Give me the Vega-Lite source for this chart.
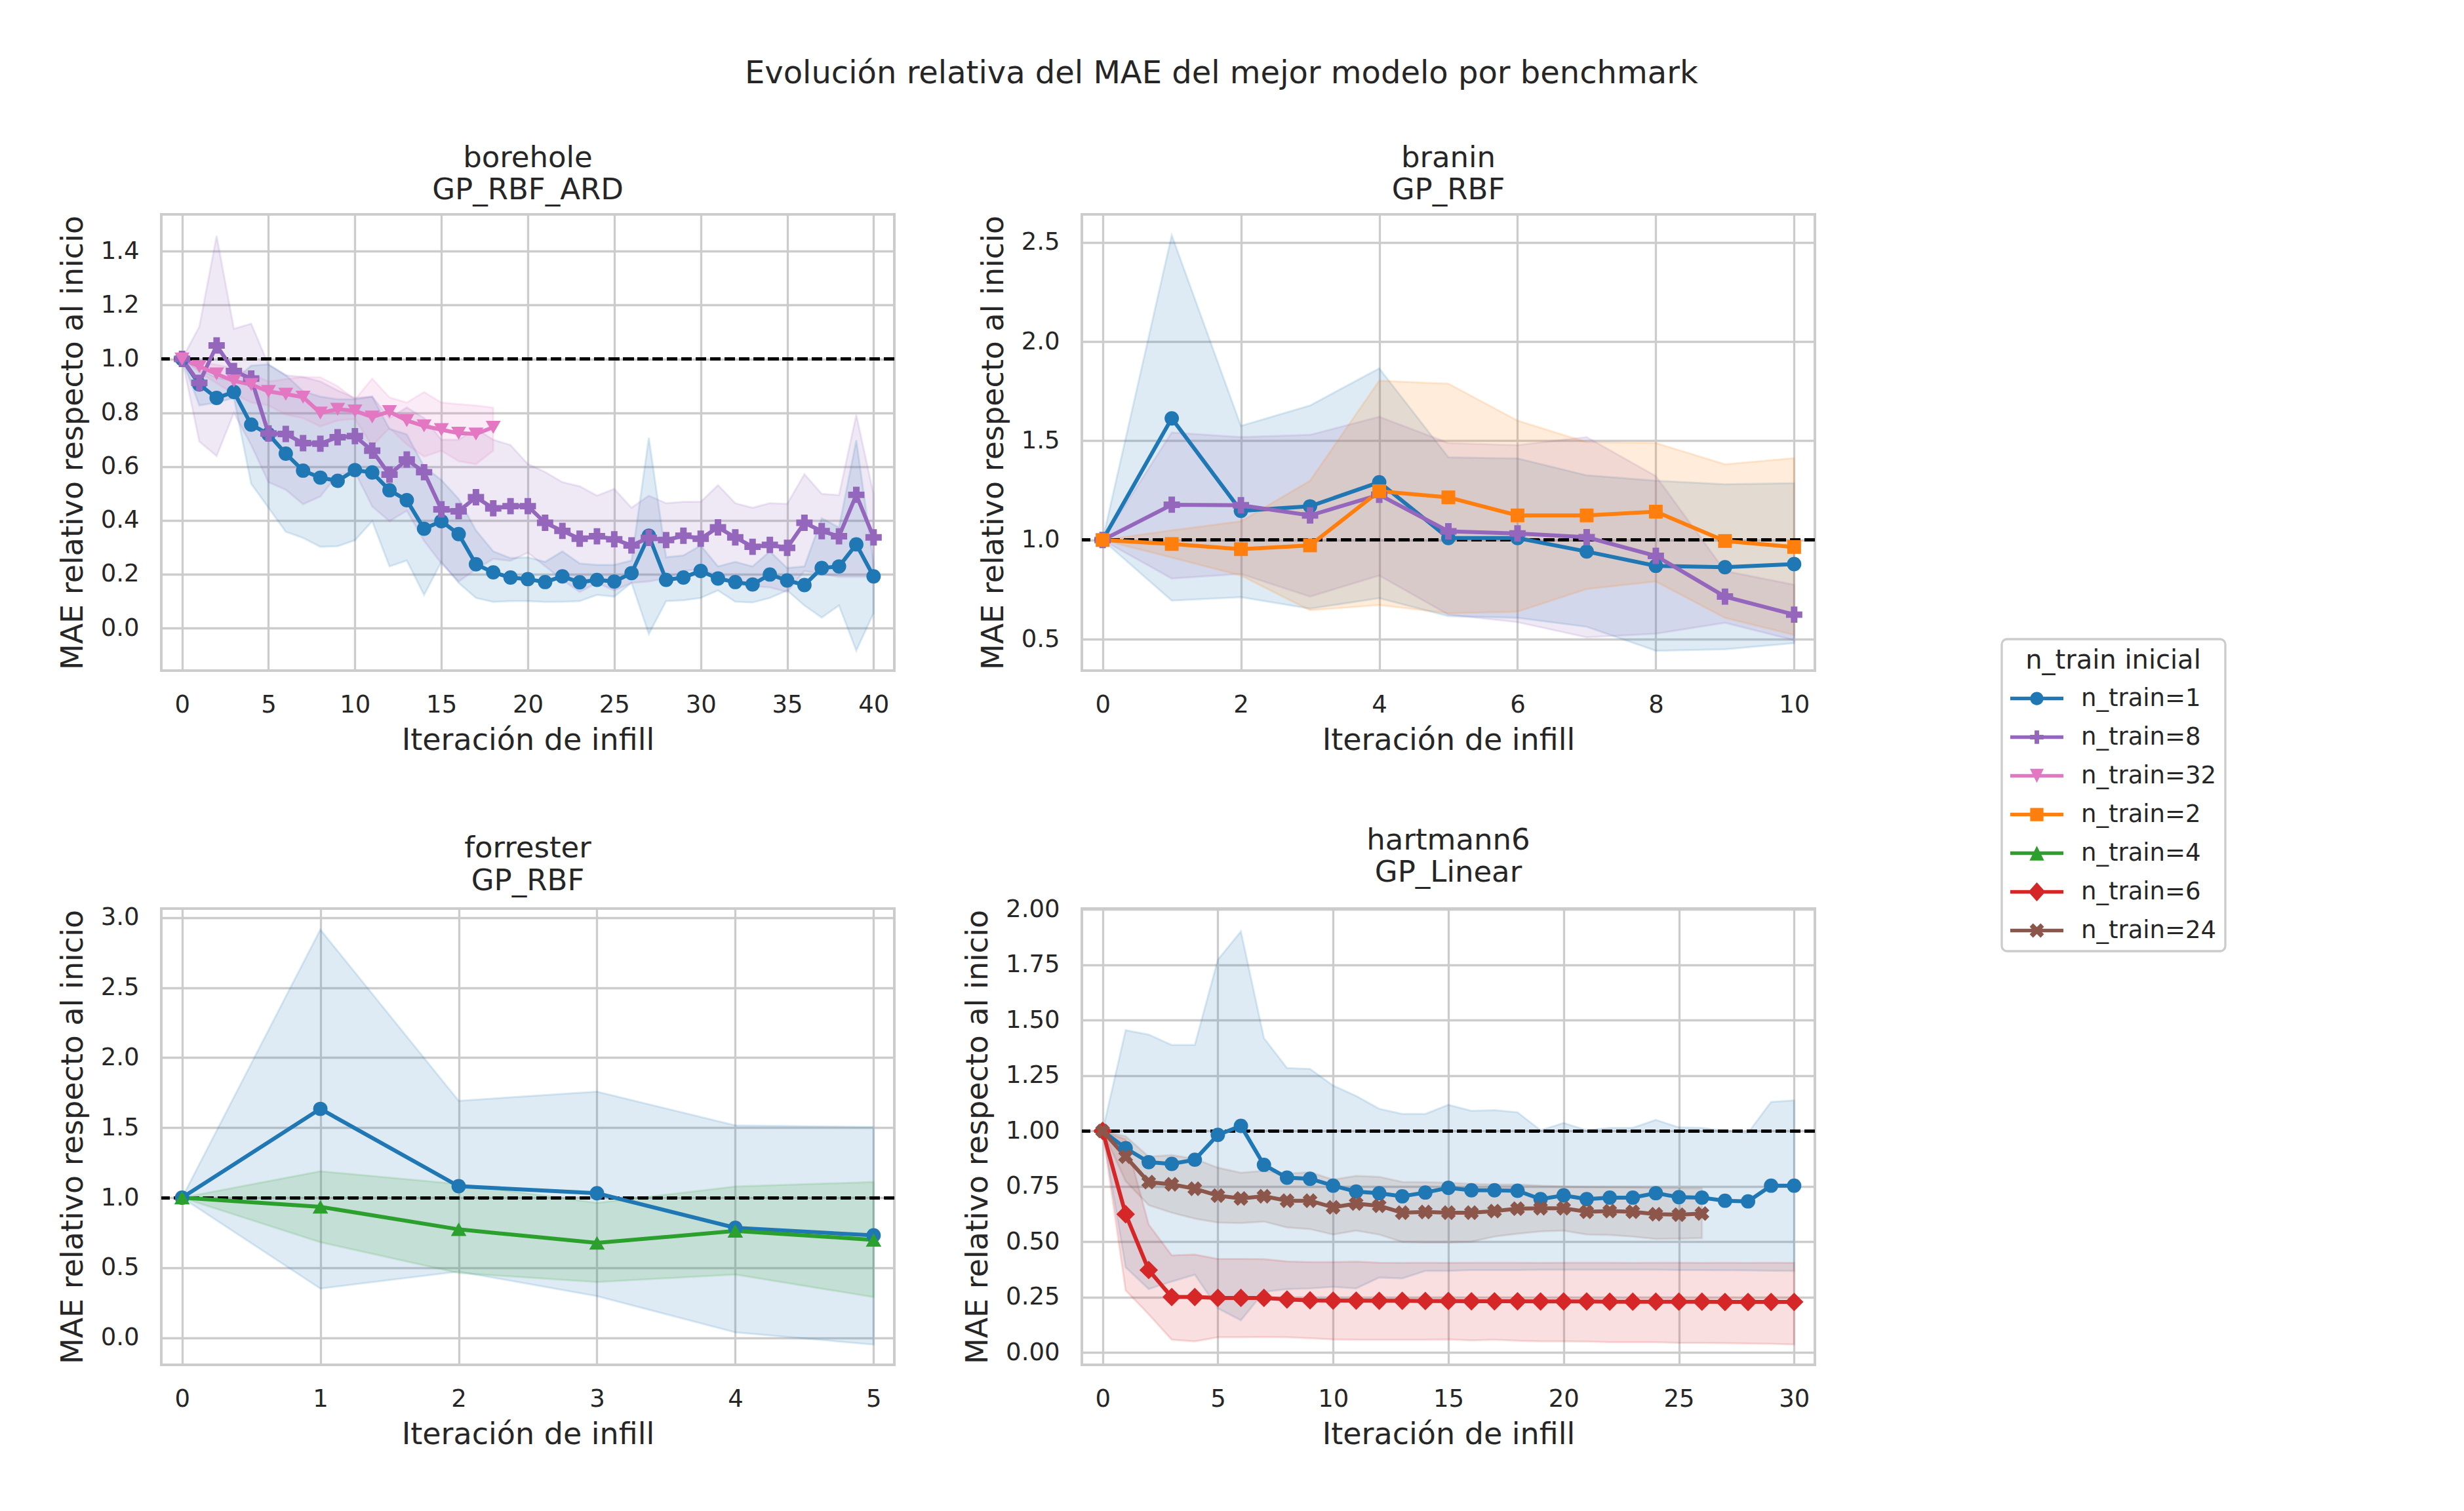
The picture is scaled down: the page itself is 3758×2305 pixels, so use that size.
{
  "$schema": "https://vega.github.io/schema/vega-lite/v6.json",
  "autosize": {"type": "none"},
  "padding": {"left": 246, "top": 327, "right": 3512, "bottom": 1978},
  "background": "#ffffff",
  "bounds": "flush",
  "columns": 2,
  "spacing": {"row": 363, "column": 286},
  "title": {"text": "Evolución relativa del MAE del mejor modelo por benchmark", "fontSize": 48, "anchor": "start", "frame": "group", "dx": 890, "offset": 80},
  "datasets": {
    "mae": [
      {"b":"borehole","s":"n_train=1","i":0,"m":1,"lo":1,"hi":1},
      {"b":"borehole","s":"n_train=1","i":1,"m":0.905,"lo":0.827,"hi":0.96},
      {"b":"borehole","s":"n_train=1","i":2,"m":0.855,"lo":0.838,"hi":0.93},
      {"b":"borehole","s":"n_train=1","i":3,"m":0.877,"lo":0.855,"hi":0.92},
      {"b":"borehole","s":"n_train=1","i":4,"m":0.756,"lo":0.536,"hi":0.975},
      {"b":"borehole","s":"n_train=1","i":5,"m":0.72,"lo":0.447,"hi":0.98},
      {"b":"borehole","s":"n_train=1","i":6,"m":0.648,"lo":0.358,"hi":0.94},
      {"b":"borehole","s":"n_train=1","i":7,"m":0.585,"lo":0.335,"hi":0.88},
      {"b":"borehole","s":"n_train=1","i":8,"m":0.559,"lo":0.302,"hi":0.86},
      {"b":"borehole","s":"n_train=1","i":9,"m":0.547,"lo":0.304,"hi":0.85},
      {"b":"borehole","s":"n_train=1","i":10,"m":0.587,"lo":0.326,"hi":0.85},
      {"b":"borehole","s":"n_train=1","i":11,"m":0.578,"lo":0.397,"hi":0.86},
      {"b":"borehole","s":"n_train=1","i":12,"m":0.512,"lo":0.229,"hi":0.74},
      {"b":"borehole","s":"n_train=1","i":13,"m":0.475,"lo":0.251,"hi":0.72},
      {"b":"borehole","s":"n_train=1","i":14,"m":0.369,"lo":0.123,"hi":0.6},
      {"b":"borehole","s":"n_train=1","i":15,"m":0.397,"lo":0.246,"hi":0.55},
      {"b":"borehole","s":"n_train=1","i":16,"m":0.349,"lo":0.168,"hi":0.48},
      {"b":"borehole","s":"n_train=1","i":17,"m":0.237,"lo":0.112,"hi":0.363},
      {"b":"borehole","s":"n_train=1","i":18,"m":0.207,"lo":0.097,"hi":0.285},
      {"b":"borehole","s":"n_train=1","i":19,"m":0.188,"lo":0.1,"hi":0.26},
      {"b":"borehole","s":"n_train=1","i":20,"m":0.182,"lo":0.1,"hi":0.263},
      {"b":"borehole","s":"n_train=1","i":21,"m":0.171,"lo":0.097,"hi":0.246},
      {"b":"borehole","s":"n_train=1","i":22,"m":0.192,"lo":0.098,"hi":0.285},
      {"b":"borehole","s":"n_train=1","i":23,"m":0.17,"lo":0.1,"hi":0.24},
      {"b":"borehole","s":"n_train=1","i":24,"m":0.179,"lo":0.123,"hi":0.235},
      {"b":"borehole","s":"n_train=1","i":25,"m":0.173,"lo":0.117,"hi":0.235},
      {"b":"borehole","s":"n_train=1","i":26,"m":0.204,"lo":0.168,"hi":0.251},
      {"b":"borehole","s":"n_train=1","i":27,"m":0.343,"lo":-0.022,"hi":0.707},
      {"b":"borehole","s":"n_train=1","i":28,"m":0.179,"lo":0.1,"hi":0.263},
      {"b":"borehole","s":"n_train=1","i":29,"m":0.188,"lo":0.103,"hi":0.27},
      {"b":"borehole","s":"n_train=1","i":30,"m":0.212,"lo":0.112,"hi":0.307},
      {"b":"borehole","s":"n_train=1","i":31,"m":0.184,"lo":0.14,"hi":0.229},
      {"b":"borehole","s":"n_train=1","i":32,"m":0.171,"lo":0.098,"hi":0.246},
      {"b":"borehole","s":"n_train=1","i":33,"m":0.162,"lo":0.095,"hi":0.229},
      {"b":"borehole","s":"n_train=1","i":34,"m":0.199,"lo":0.112,"hi":0.285},
      {"b":"borehole","s":"n_train=1","i":35,"m":0.177,"lo":0.14,"hi":0.223},
      {"b":"borehole","s":"n_train=1","i":36,"m":0.16,"lo":0.084,"hi":0.229},
      {"b":"borehole","s":"n_train=1","i":37,"m":0.223,"lo":0.039,"hi":0.408},
      {"b":"borehole","s":"n_train=1","i":38,"m":0.229,"lo":0.084,"hi":0.374},
      {"b":"borehole","s":"n_train=1","i":39,"m":0.311,"lo":-0.084,"hi":0.698},
      {"b":"borehole","s":"n_train=1","i":40,"m":0.192,"lo":0.056,"hi":0.24},

      {"b":"borehole","s":"n_train=8","i":0,"m":1,"lo":1,"hi":1},
      {"b":"borehole","s":"n_train=8","i":1,"m":0.911,"lo":0.693,"hi":1.12},
      {"b":"borehole","s":"n_train=8","i":2,"m":1.05,"lo":0.639,"hi":1.458},
      {"b":"borehole","s":"n_train=8","i":3,"m":0.955,"lo":0.799,"hi":1.112},
      {"b":"borehole","s":"n_train=8","i":4,"m":0.927,"lo":0.68,"hi":1.131},
      {"b":"borehole","s":"n_train=8","i":5,"m":0.723,"lo":0.542,"hi":0.978},
      {"b":"borehole","s":"n_train=8","i":6,"m":0.721,"lo":0.514,"hi":0.939},
      {"b":"borehole","s":"n_train=8","i":7,"m":0.687,"lo":0.46,"hi":0.933},
      {"b":"borehole","s":"n_train=8","i":8,"m":0.685,"lo":0.489,"hi":0.916},
      {"b":"borehole","s":"n_train=8","i":9,"m":0.709,"lo":0.57,"hi":0.883},
      {"b":"borehole","s":"n_train=8","i":10,"m":0.713,"lo":0.58,"hi":0.855},
      {"b":"borehole","s":"n_train=8","i":11,"m":0.659,"lo":0.452,"hi":0.86},
      {"b":"borehole","s":"n_train=8","i":12,"m":0.57,"lo":0.397,"hi":0.78},
      {"b":"borehole","s":"n_train=8","i":13,"m":0.626,"lo":0.436,"hi":0.82},
      {"b":"borehole","s":"n_train=8","i":14,"m":0.579,"lo":0.324,"hi":0.78},
      {"b":"borehole","s":"n_train=8","i":15,"m":0.441,"lo":0.24,"hi":0.7},
      {"b":"borehole","s":"n_train=8","i":16,"m":0.434,"lo":0.173,"hi":0.7},
      {"b":"borehole","s":"n_train=8","i":17,"m":0.486,"lo":0.218,"hi":0.74},
      {"b":"borehole","s":"n_train=8","i":18,"m":0.445,"lo":0.257,"hi":0.7},
      {"b":"borehole","s":"n_train=8","i":19,"m":0.453,"lo":0.25,"hi":0.68},
      {"b":"borehole","s":"n_train=8","i":20,"m":0.453,"lo":0.28,"hi":0.61},
      {"b":"borehole","s":"n_train=8","i":21,"m":0.391,"lo":0.23,"hi":0.58},
      {"b":"borehole","s":"n_train=8","i":22,"m":0.361,"lo":0.179,"hi":0.542},
      {"b":"borehole","s":"n_train=8","i":23,"m":0.332,"lo":0.134,"hi":0.527},
      {"b":"borehole","s":"n_train=8","i":24,"m":0.341,"lo":0.168,"hi":0.492},
      {"b":"borehole","s":"n_train=8","i":25,"m":0.33,"lo":0.14,"hi":0.517},
      {"b":"borehole","s":"n_train=8","i":26,"m":0.307,"lo":0.168,"hi":0.447},
      {"b":"borehole","s":"n_train=8","i":27,"m":0.335,"lo":0.173,"hi":0.492},
      {"b":"borehole","s":"n_train=8","i":28,"m":0.327,"lo":0.184,"hi":0.464},
      {"b":"borehole","s":"n_train=8","i":29,"m":0.343,"lo":0.212,"hi":0.469},
      {"b":"borehole","s":"n_train=8","i":30,"m":0.332,"lo":0.218,"hi":0.469},
      {"b":"borehole","s":"n_train=8","i":31,"m":0.374,"lo":0.196,"hi":0.531},
      {"b":"borehole","s":"n_train=8","i":32,"m":0.337,"lo":0.162,"hi":0.464},
      {"b":"borehole","s":"n_train=8","i":33,"m":0.302,"lo":0.156,"hi":0.447},
      {"b":"borehole","s":"n_train=8","i":34,"m":0.309,"lo":0.151,"hi":0.464},
      {"b":"borehole","s":"n_train=8","i":35,"m":0.298,"lo":0.134,"hi":0.461},
      {"b":"borehole","s":"n_train=8","i":36,"m":0.391,"lo":0.212,"hi":0.572},
      {"b":"borehole","s":"n_train=8","i":37,"m":0.36,"lo":0.201,"hi":0.499},
      {"b":"borehole","s":"n_train=8","i":38,"m":0.341,"lo":0.19,"hi":0.494},
      {"b":"borehole","s":"n_train=8","i":39,"m":0.495,"lo":0.19,"hi":0.793},
      {"b":"borehole","s":"n_train=8","i":40,"m":0.337,"lo":0.19,"hi":0.497},

      {"b":"borehole","s":"n_train=32","i":0,"m":1,"lo":1,"hi":1},
      {"b":"borehole","s":"n_train=32","i":1,"m":0.972,"lo":0.95,"hi":0.99},
      {"b":"borehole","s":"n_train=32","i":2,"m":0.944,"lo":0.91,"hi":0.978},
      {"b":"borehole","s":"n_train=32","i":3,"m":0.918,"lo":0.87,"hi":0.966},
      {"b":"borehole","s":"n_train=32","i":4,"m":0.905,"lo":0.838,"hi":0.944},
      {"b":"borehole","s":"n_train=32","i":5,"m":0.879,"lo":0.827,"hi":0.916},
      {"b":"borehole","s":"n_train=32","i":6,"m":0.869,"lo":0.793,"hi":0.925},
      {"b":"borehole","s":"n_train=32","i":7,"m":0.858,"lo":0.78,"hi":0.933},
      {"b":"borehole","s":"n_train=32","i":8,"m":0.799,"lo":0.749,"hi":0.932},
      {"b":"borehole","s":"n_train=32","i":9,"m":0.813,"lo":0.771,"hi":0.899},
      {"b":"borehole","s":"n_train=32","i":10,"m":0.807,"lo":0.777,"hi":0.849},
      {"b":"borehole","s":"n_train=32","i":11,"m":0.784,"lo":0.676,"hi":0.927},
      {"b":"borehole","s":"n_train=32","i":12,"m":0.804,"lo":0.743,"hi":0.857},
      {"b":"borehole","s":"n_train=32","i":13,"m":0.771,"lo":0.682,"hi":0.838},
      {"b":"borehole","s":"n_train=32","i":14,"m":0.751,"lo":0.637,"hi":0.877},
      {"b":"borehole","s":"n_train=32","i":15,"m":0.737,"lo":0.659,"hi":0.838},
      {"b":"borehole","s":"n_train=32","i":16,"m":0.724,"lo":0.62,"hi":0.832},
      {"b":"borehole","s":"n_train=32","i":17,"m":0.721,"lo":0.609,"hi":0.827},
      {"b":"borehole","s":"n_train=32","i":18,"m":0.746,"lo":0.659,"hi":0.819},

      {"b":"branin","s":"n_train=1","i":0,"m":1,"lo":1,"hi":1},
      {"b":"branin","s":"n_train=1","i":1,"m":1.613,"lo":0.695,"hi":2.536},
      {"b":"branin","s":"n_train=1","i":2,"m":1.147,"lo":0.712,"hi":1.575},
      {"b":"branin","s":"n_train=1","i":3,"m":1.17,"lo":0.654,"hi":1.678},
      {"b":"branin","s":"n_train=1","i":4,"m":1.291,"lo":0.707,"hi":1.865},
      {"b":"branin","s":"n_train=1","i":5,"m":1.01,"lo":0.616,"hi":1.417},
      {"b":"branin","s":"n_train=1","i":6,"m":1.01,"lo":0.608,"hi":1.411},
      {"b":"branin","s":"n_train=1","i":7,"m":0.942,"lo":0.563,"hi":1.326},
      {"b":"branin","s":"n_train=1","i":8,"m":0.87,"lo":0.442,"hi":1.299},
      {"b":"branin","s":"n_train=1","i":9,"m":0.863,"lo":0.449,"hi":1.281},
      {"b":"branin","s":"n_train=1","i":10,"m":0.879,"lo":0.48,"hi":1.287},

      {"b":"branin","s":"n_train=8","i":0,"m":1,"lo":1,"hi":1},
      {"b":"branin","s":"n_train=8","i":1,"m":1.178,"lo":0.806,"hi":1.542},
      {"b":"branin","s":"n_train=8","i":2,"m":1.175,"lo":0.829,"hi":1.519},
      {"b":"branin","s":"n_train=8","i":3,"m":1.124,"lo":0.715,"hi":1.53},
      {"b":"branin","s":"n_train=8","i":4,"m":1.228,"lo":0.821,"hi":1.621},
      {"b":"branin","s":"n_train=8","i":5,"m":1.044,"lo":0.624,"hi":1.489},
      {"b":"branin","s":"n_train=8","i":6,"m":1.033,"lo":0.586,"hi":1.478},
      {"b":"branin","s":"n_train=8","i":7,"m":1.014,"lo":0.51,"hi":1.519},
      {"b":"branin","s":"n_train=8","i":8,"m":0.92,"lo":0.528,"hi":1.322},
      {"b":"branin","s":"n_train=8","i":9,"m":0.715,"lo":0.583,"hi":0.844},
      {"b":"branin","s":"n_train=8","i":10,"m":0.624,"lo":0.495,"hi":0.775},

      {"b":"branin","s":"n_train=2","i":0,"m":1,"lo":1,"hi":1},
      {"b":"branin","s":"n_train=2","i":1,"m":0.98,"lo":0.912,"hi":1.049},
      {"b":"branin","s":"n_train=2","i":2,"m":0.954,"lo":0.821,"hi":1.094},
      {"b":"branin","s":"n_train=2","i":3,"m":0.973,"lo":0.646,"hi":1.299},
      {"b":"branin","s":"n_train=2","i":4,"m":1.246,"lo":0.672,"hi":1.803},
      {"b":"branin","s":"n_train=2","i":5,"m":1.215,"lo":0.631,"hi":1.788},
      {"b":"branin","s":"n_train=2","i":6,"m":1.124,"lo":0.639,"hi":1.602},
      {"b":"branin","s":"n_train=2","i":7,"m":1.124,"lo":0.753,"hi":1.493},
      {"b":"branin","s":"n_train=2","i":8,"m":1.143,"lo":0.791,"hi":1.489},
      {"b":"branin","s":"n_train=2","i":9,"m":0.995,"lo":0.608,"hi":1.382},
      {"b":"branin","s":"n_train=2","i":10,"m":0.965,"lo":0.522,"hi":1.413},

      {"b":"forrester","s":"n_train=1","i":0,"m":1,"lo":1,"hi":1},
      {"b":"forrester","s":"n_train=1","i":1,"m":1.634,"lo":0.351,"hi":2.914},
      {"b":"forrester","s":"n_train=1","i":2,"m":1.082,"lo":0.473,"hi":1.692},
      {"b":"forrester","s":"n_train=1","i":3,"m":1.032,"lo":0.297,"hi":1.757},
      {"b":"forrester","s":"n_train=1","i":4,"m":0.785,"lo":0.039,"hi":1.516},
      {"b":"forrester","s":"n_train=1","i":5,"m":0.731,"lo":-0.049,"hi":1.505},

      {"b":"forrester","s":"n_train=4","i":0,"m":1,"lo":1,"hi":1},
      {"b":"forrester","s":"n_train=4","i":1,"m":0.935,"lo":0.682,"hi":1.189},
      {"b":"forrester","s":"n_train=4","i":2,"m":0.774,"lo":0.462,"hi":1.097},
      {"b":"forrester","s":"n_train=4","i":3,"m":0.677,"lo":0.398,"hi":0.963},
      {"b":"forrester","s":"n_train=4","i":4,"m":0.763,"lo":0.452,"hi":1.08},
      {"b":"forrester","s":"n_train=4","i":5,"m":0.699,"lo":0.29,"hi":1.112},

      {"b":"hartmann6","s":"n_train=1","i":0,"m":1,"lo":1,"hi":1},
      {"b":"hartmann6","s":"n_train=1","i":1,"m":0.922,"lo":0.384,"hi":1.455},
      {"b":"hartmann6","s":"n_train=1","i":2,"m":0.859,"lo":0.286,"hi":1.435},
      {"b":"hartmann6","s":"n_train=1","i":3,"m":0.851,"lo":0.32,"hi":1.388},
      {"b":"hartmann6","s":"n_train=1","i":4,"m":0.87,"lo":0.351,"hi":1.388},
      {"b":"hartmann6","s":"n_train=1","i":5,"m":0.982,"lo":0.199,"hi":1.773},
      {"b":"hartmann6","s":"n_train=1","i":6,"m":1.023,"lo":0.145,"hi":1.901},
      {"b":"hartmann6","s":"n_train=1","i":7,"m":0.847,"lo":0.273,"hi":1.419},
      {"b":"hartmann6","s":"n_train=1","i":8,"m":0.789,"lo":0.286,"hi":1.284},
      {"b":"hartmann6","s":"n_train=1","i":9,"m":0.784,"lo":0.289,"hi":1.28},
      {"b":"hartmann6","s":"n_train=1","i":10,"m":0.753,"lo":0.296,"hi":1.205},
      {"b":"hartmann6","s":"n_train=1","i":11,"m":0.726,"lo":0.289,"hi":1.158},
      {"b":"hartmann6","s":"n_train=1","i":12,"m":0.719,"lo":0.338,"hi":1.1},
      {"b":"hartmann6","s":"n_train=1","i":13,"m":0.705,"lo":0.334,"hi":1.077},
      {"b":"hartmann6","s":"n_train=1","i":14,"m":0.722,"lo":0.368,"hi":1.077},
      {"b":"hartmann6","s":"n_train=1","i":15,"m":0.743,"lo":0.368,"hi":1.118},
      {"b":"hartmann6","s":"n_train=1","i":16,"m":0.732,"lo":0.372,"hi":1.091},
      {"b":"hartmann6","s":"n_train=1","i":17,"m":0.732,"lo":0.372,"hi":1.094},
      {"b":"hartmann6","s":"n_train=1","i":18,"m":0.73,"lo":0.372,"hi":1.084},
      {"b":"hartmann6","s":"n_train=1","i":19,"m":0.692,"lo":0.373,"hi":1.003},
      {"b":"hartmann6","s":"n_train=1","i":20,"m":0.709,"lo":0.373,"hi":1.036},
      {"b":"hartmann6","s":"n_train=1","i":21,"m":0.692,"lo":0.373,"hi":1.003},
      {"b":"hartmann6","s":"n_train=1","i":22,"m":0.699,"lo":0.373,"hi":1.014},
      {"b":"hartmann6","s":"n_train=1","i":23,"m":0.699,"lo":0.373,"hi":1.014},
      {"b":"hartmann6","s":"n_train=1","i":24,"m":0.719,"lo":0.373,"hi":1.05},
      {"b":"hartmann6","s":"n_train=1","i":25,"m":0.701,"lo":0.372,"hi":1.016},
      {"b":"hartmann6","s":"n_train=1","i":26,"m":0.699,"lo":0.372,"hi":1.014},
      {"b":"hartmann6","s":"n_train=1","i":27,"m":0.685,"lo":0.371,"hi":1.0},
      {"b":"hartmann6","s":"n_train=1","i":28,"m":0.682,"lo":0.37,"hi":0.992},
      {"b":"hartmann6","s":"n_train=1","i":29,"m":0.753,"lo":0.369,"hi":1.131},
      {"b":"hartmann6","s":"n_train=1","i":30,"m":0.753,"lo":0.368,"hi":1.138},

      {"b":"hartmann6","s":"n_train=6","i":0,"m":1,"lo":1,"hi":1},
      {"b":"hartmann6","s":"n_train=6","i":1,"m":0.624,"lo":0.28,"hi":0.962},
      {"b":"hartmann6","s":"n_train=6","i":2,"m":0.372,"lo":0.172,"hi":0.577},
      {"b":"hartmann6","s":"n_train=6","i":3,"m":0.25,"lo":0.057,"hi":0.438},
      {"b":"hartmann6","s":"n_train=6","i":4,"m":0.25,"lo":0.05,"hi":0.442},
      {"b":"hartmann6","s":"n_train=6","i":5,"m":0.246,"lo":0.068,"hi":0.422},
      {"b":"hartmann6","s":"n_train=6","i":6,"m":0.246,"lo":0.068,"hi":0.422},
      {"b":"hartmann6","s":"n_train=6","i":7,"m":0.246,"lo":0.07,"hi":0.421},
      {"b":"hartmann6","s":"n_train=6","i":8,"m":0.239,"lo":0.068,"hi":0.411},
      {"b":"hartmann6","s":"n_train=6","i":9,"m":0.235,"lo":0.064,"hi":0.408},
      {"b":"hartmann6","s":"n_train=6","i":10,"m":0.234,"lo":0.059,"hi":0.408},
      {"b":"hartmann6","s":"n_train=6","i":11,"m":0.234,"lo":0.057,"hi":0.41},
      {"b":"hartmann6","s":"n_train=6","i":12,"m":0.233,"lo":0.057,"hi":0.405},
      {"b":"hartmann6","s":"n_train=6","i":13,"m":0.233,"lo":0.057,"hi":0.404},
      {"b":"hartmann6","s":"n_train=6","i":14,"m":0.232,"lo":0.057,"hi":0.405},
      {"b":"hartmann6","s":"n_train=6","i":15,"m":0.232,"lo":0.059,"hi":0.404},
      {"b":"hartmann6","s":"n_train=6","i":16,"m":0.231,"lo":0.054,"hi":0.405},
      {"b":"hartmann6","s":"n_train=6","i":17,"m":0.231,"lo":0.057,"hi":0.405},
      {"b":"hartmann6","s":"n_train=6","i":18,"m":0.231,"lo":0.053,"hi":0.405},
      {"b":"hartmann6","s":"n_train=6","i":19,"m":0.23,"lo":0.05,"hi":0.404},
      {"b":"hartmann6","s":"n_train=6","i":20,"m":0.23,"lo":0.05,"hi":0.405},
      {"b":"hartmann6","s":"n_train=6","i":21,"m":0.23,"lo":0.049,"hi":0.405},
      {"b":"hartmann6","s":"n_train=6","i":22,"m":0.229,"lo":0.046,"hi":0.405},
      {"b":"hartmann6","s":"n_train=6","i":23,"m":0.229,"lo":0.046,"hi":0.404},
      {"b":"hartmann6","s":"n_train=6","i":24,"m":0.229,"lo":0.046,"hi":0.405},
      {"b":"hartmann6","s":"n_train=6","i":25,"m":0.229,"lo":0.043,"hi":0.405},
      {"b":"hartmann6","s":"n_train=6","i":26,"m":0.229,"lo":0.043,"hi":0.404},
      {"b":"hartmann6","s":"n_train=6","i":27,"m":0.228,"lo":0.042,"hi":0.405},
      {"b":"hartmann6","s":"n_train=6","i":28,"m":0.228,"lo":0.04,"hi":0.404},
      {"b":"hartmann6","s":"n_train=6","i":29,"m":0.228,"lo":0.039,"hi":0.405},
      {"b":"hartmann6","s":"n_train=6","i":30,"m":0.228,"lo":0.036,"hi":0.404},

      {"b":"hartmann6","s":"n_train=24","i":0,"m":1,"lo":1,"hi":1},
      {"b":"hartmann6","s":"n_train=24","i":1,"m":0.884,"lo":0.773,"hi":0.976},
      {"b":"hartmann6","s":"n_train=24","i":2,"m":0.769,"lo":0.665,"hi":0.884},
      {"b":"hartmann6","s":"n_train=24","i":3,"m":0.759,"lo":0.631,"hi":0.891},
      {"b":"hartmann6","s":"n_train=24","i":4,"m":0.739,"lo":0.604,"hi":0.874},
      {"b":"hartmann6","s":"n_train=24","i":5,"m":0.708,"lo":0.586,"hi":0.834},
      {"b":"hartmann6","s":"n_train=24","i":6,"m":0.695,"lo":0.584,"hi":0.811},
      {"b":"hartmann6","s":"n_train=24","i":7,"m":0.705,"lo":0.591,"hi":0.82},
      {"b":"hartmann6","s":"n_train=24","i":8,"m":0.685,"lo":0.564,"hi":0.807},
      {"b":"hartmann6","s":"n_train=24","i":9,"m":0.685,"lo":0.557,"hi":0.814},
      {"b":"hartmann6","s":"n_train=24","i":10,"m":0.655,"lo":0.532,"hi":0.78},
      {"b":"hartmann6","s":"n_train=24","i":11,"m":0.672,"lo":0.55,"hi":0.797},
      {"b":"hartmann6","s":"n_train=24","i":12,"m":0.662,"lo":0.532,"hi":0.793},
      {"b":"hartmann6","s":"n_train=24","i":13,"m":0.631,"lo":0.499,"hi":0.77},
      {"b":"hartmann6","s":"n_train=24","i":14,"m":0.634,"lo":0.496,"hi":0.769},
      {"b":"hartmann6","s":"n_train=24","i":15,"m":0.631,"lo":0.496,"hi":0.766},
      {"b":"hartmann6","s":"n_train=24","i":16,"m":0.631,"lo":0.5,"hi":0.761},
      {"b":"hartmann6","s":"n_train=24","i":17,"m":0.638,"lo":0.523,"hi":0.758},
      {"b":"hartmann6","s":"n_train=24","i":18,"m":0.649,"lo":0.536,"hi":0.759},
      {"b":"hartmann6","s":"n_train=24","i":19,"m":0.651,"lo":0.546,"hi":0.753},
      {"b":"hartmann6","s":"n_train=24","i":20,"m":0.651,"lo":0.55,"hi":0.749},
      {"b":"hartmann6","s":"n_train=24","i":21,"m":0.635,"lo":0.532,"hi":0.747},
      {"b":"hartmann6","s":"n_train=24","i":22,"m":0.638,"lo":0.53,"hi":0.746},
      {"b":"hartmann6","s":"n_train=24","i":23,"m":0.635,"lo":0.523,"hi":0.745},
      {"b":"hartmann6","s":"n_train=24","i":24,"m":0.624,"lo":0.512,"hi":0.743},
      {"b":"hartmann6","s":"n_train=24","i":25,"m":0.622,"lo":0.514,"hi":0.742},
      {"b":"hartmann6","s":"n_train=24","i":26,"m":0.627,"lo":0.516,"hi":0.741}
    ]
  },
  "data": {"name": "mae"},
  "concat": [
    {
      "width": 1118, "height": 696,
      "title": {"text": ["borehole", "GP_RBF_ARD"]},
      "transform": [{"filter": "datum.b === 'borehole'"}],
      "layer": [
        {"mark": {"type": "area", "fillOpacity": 0.15, "strokeOpacity": 0.15, "strokeWidth": 3},
         "encoding": {
           "x": {"field": "i", "type": "quantitative", "title": "Iteración de infill", "scale": {"domain": [-1.2, 41.2], "nice": false, "zero": false}, "axis": {"values": [0, 5, 10, 15, 20, 25, 30, 35, 40]}},
           "y": {"field": "lo", "type": "quantitative", "title": "MAE relativo respecto al inicio", "scale": {"domain": [-0.158, 1.537], "nice": false, "zero": false}, "axis": {"values": [0, 0.2, 0.4, 0.6, 0.8, 1, 1.2, 1.4], "format": ".1f"}},
           "y2": {"field": "hi"},
           "color": {"field": "s", "type": "nominal", "title": "n_train inicial", "scale": {"domain": ["n_train=1", "n_train=8", "n_train=32", "n_train=2", "n_train=4", "n_train=6", "n_train=24"], "range": ["#1f77b4", "#9467bd", "#e377c2", "#ff7f0e", "#2ca02c", "#d62728", "#8c564b"]}},
           "stroke": {"field": "s", "type": "nominal", "scale": {"domain": ["n_train=1", "n_train=8", "n_train=32", "n_train=2", "n_train=4", "n_train=6", "n_train=24"], "range": ["#1f77b4", "#9467bd", "#e377c2", "#ff7f0e", "#2ca02c", "#d62728", "#8c564b"]}, "legend": null}
         }},
        {"mark": {"type": "rule", "color": "#000000", "strokeWidth": 4.2, "strokeDash": [15.4, 6.7]},
         "encoding": {"y": {"datum": 1, "type": "quantitative", "title": "MAE relativo respecto al inicio", "scale": {"domain": [-0.158, 1.537], "nice": false, "zero": false}, "axis": {"values": [0, 0.2, 0.4, 0.6, 0.8, 1, 1.2, 1.4], "format": ".1f"}}}},
        {"mark": {"type": "line", "strokeWidth": 6},
         "encoding": {
           "x": {"field": "i", "type": "quantitative", "title": "Iteración de infill", "scale": {"domain": [-1.2, 41.2], "nice": false, "zero": false}, "axis": {"values": [0, 5, 10, 15, 20, 25, 30, 35, 40]}},
           "y": {"field": "m", "type": "quantitative", "title": "MAE relativo respecto al inicio", "scale": {"domain": [-0.158, 1.537], "nice": false, "zero": false}, "axis": {"values": [0, 0.2, 0.4, 0.6, 0.8, 1, 1.2, 1.4], "format": ".1f"}},
           "color": {"field": "s", "type": "nominal", "title": "n_train inicial", "scale": {"domain": ["n_train=1", "n_train=8", "n_train=32", "n_train=2", "n_train=4", "n_train=6", "n_train=24"], "range": ["#1f77b4", "#9467bd", "#e377c2", "#ff7f0e", "#2ca02c", "#d62728", "#8c564b"]}}
         }},
        {"transform": [{"filter": "datum.s === 'n_train=1'"}],
         "mark": {"type": "point", "shape": "circle", "filled": true, "size": 480, "opacity": 1, "color": "#1f77b4"},
         "encoding": {
           "x": {"field": "i", "type": "quantitative", "title": "Iteración de infill", "scale": {"domain": [-1.2, 41.2], "nice": false, "zero": false}, "axis": {"values": [0, 5, 10, 15, 20, 25, 30, 35, 40]}},
           "y": {"field": "m", "type": "quantitative", "title": "MAE relativo respecto al inicio", "scale": {"domain": [-0.158, 1.537], "nice": false, "zero": false}, "axis": {"values": [0, 0.2, 0.4, 0.6, 0.8, 1, 1.2, 1.4], "format": ".1f"}}
         }},
        {"transform": [{"filter": "datum.s === 'n_train=8'"}],
         "mark": {"type": "point", "shape": "cross", "filled": true, "size": 620, "opacity": 1, "color": "#9467bd"},
         "encoding": {
           "x": {"field": "i", "type": "quantitative", "title": "Iteración de infill", "scale": {"domain": [-1.2, 41.2], "nice": false, "zero": false}, "axis": {"values": [0, 5, 10, 15, 20, 25, 30, 35, 40]}},
           "y": {"field": "m", "type": "quantitative", "title": "MAE relativo respecto al inicio", "scale": {"domain": [-0.158, 1.537], "nice": false, "zero": false}, "axis": {"values": [0, 0.2, 0.4, 0.6, 0.8, 1, 1.2, 1.4], "format": ".1f"}}
         }},
        {"transform": [{"filter": "datum.s === 'n_train=32'"}],
         "mark": {"type": "point", "shape": "triangle-down", "filled": true, "size": 520, "opacity": 1, "color": "#e377c2"},
         "encoding": {
           "x": {"field": "i", "type": "quantitative", "title": "Iteración de infill", "scale": {"domain": [-1.2, 41.2], "nice": false, "zero": false}, "axis": {"values": [0, 5, 10, 15, 20, 25, 30, 35, 40]}},
           "y": {"field": "m", "type": "quantitative", "title": "MAE relativo respecto al inicio", "scale": {"domain": [-0.158, 1.537], "nice": false, "zero": false}, "axis": {"values": [0, 0.2, 0.4, 0.6, 0.8, 1, 1.2, 1.4], "format": ".1f"}}
         }}
      ]
    },
    {
      "width": 1118, "height": 696,
      "title": {"text": ["branin", "GP_RBF"]},
      "transform": [{"filter": "datum.b === 'branin'"}],
      "layer": [
        {"mark": {"type": "area", "fillOpacity": 0.15, "strokeOpacity": 0.15, "strokeWidth": 3},
         "encoding": {
           "x": {"field": "i", "type": "quantitative", "title": "Iteración de infill", "scale": {"domain": [-0.3, 10.3], "nice": false, "zero": false}, "axis": {"values": [0, 2, 4, 6, 8, 10]}},
           "y": {"field": "lo", "type": "quantitative", "title": "MAE relativo respecto al inicio", "scale": {"domain": [0.342, 2.641], "nice": false, "zero": false}, "axis": {"values": [0.5, 1, 1.5, 2, 2.5], "format": ".1f"}},
           "y2": {"field": "hi"},
           "color": {"field": "s", "type": "nominal", "title": "n_train inicial", "scale": {"domain": ["n_train=1", "n_train=8", "n_train=32", "n_train=2", "n_train=4", "n_train=6", "n_train=24"], "range": ["#1f77b4", "#9467bd", "#e377c2", "#ff7f0e", "#2ca02c", "#d62728", "#8c564b"]}},
           "stroke": {"field": "s", "type": "nominal", "scale": {"domain": ["n_train=1", "n_train=8", "n_train=32", "n_train=2", "n_train=4", "n_train=6", "n_train=24"], "range": ["#1f77b4", "#9467bd", "#e377c2", "#ff7f0e", "#2ca02c", "#d62728", "#8c564b"]}, "legend": null}
         }},
        {"mark": {"type": "rule", "color": "#000000", "strokeWidth": 4.2, "strokeDash": [15.4, 6.7]},
         "encoding": {"y": {"datum": 1, "type": "quantitative", "title": "MAE relativo respecto al inicio", "scale": {"domain": [0.342, 2.641], "nice": false, "zero": false}, "axis": {"values": [0.5, 1, 1.5, 2, 2.5], "format": ".1f"}}}},
        {"mark": {"type": "line", "strokeWidth": 6},
         "encoding": {
           "x": {"field": "i", "type": "quantitative", "title": "Iteración de infill", "scale": {"domain": [-0.3, 10.3], "nice": false, "zero": false}, "axis": {"values": [0, 2, 4, 6, 8, 10]}},
           "y": {"field": "m", "type": "quantitative", "title": "MAE relativo respecto al inicio", "scale": {"domain": [0.342, 2.641], "nice": false, "zero": false}, "axis": {"values": [0.5, 1, 1.5, 2, 2.5], "format": ".1f"}},
           "color": {"field": "s", "type": "nominal", "title": "n_train inicial", "scale": {"domain": ["n_train=1", "n_train=8", "n_train=32", "n_train=2", "n_train=4", "n_train=6", "n_train=24"], "range": ["#1f77b4", "#9467bd", "#e377c2", "#ff7f0e", "#2ca02c", "#d62728", "#8c564b"]}}
         }},
        {"transform": [{"filter": "datum.s === 'n_train=1'"}],
         "mark": {"type": "point", "shape": "circle", "filled": true, "size": 480, "opacity": 1, "color": "#1f77b4"},
         "encoding": {
           "x": {"field": "i", "type": "quantitative", "title": "Iteración de infill", "scale": {"domain": [-0.3, 10.3], "nice": false, "zero": false}, "axis": {"values": [0, 2, 4, 6, 8, 10]}},
           "y": {"field": "m", "type": "quantitative", "title": "MAE relativo respecto al inicio", "scale": {"domain": [0.342, 2.641], "nice": false, "zero": false}, "axis": {"values": [0.5, 1, 1.5, 2, 2.5], "format": ".1f"}}
         }},
        {"transform": [{"filter": "datum.s === 'n_train=8'"}],
         "mark": {"type": "point", "shape": "cross", "filled": true, "size": 620, "opacity": 1, "color": "#9467bd"},
         "encoding": {
           "x": {"field": "i", "type": "quantitative", "title": "Iteración de infill", "scale": {"domain": [-0.3, 10.3], "nice": false, "zero": false}, "axis": {"values": [0, 2, 4, 6, 8, 10]}},
           "y": {"field": "m", "type": "quantitative", "title": "MAE relativo respecto al inicio", "scale": {"domain": [0.342, 2.641], "nice": false, "zero": false}, "axis": {"values": [0.5, 1, 1.5, 2, 2.5], "format": ".1f"}}
         }},
        {"transform": [{"filter": "datum.s === 'n_train=2'"}],
         "mark": {"type": "point", "shape": "square", "filled": true, "size": 440, "opacity": 1, "color": "#ff7f0e"},
         "encoding": {
           "x": {"field": "i", "type": "quantitative", "title": "Iteración de infill", "scale": {"domain": [-0.3, 10.3], "nice": false, "zero": false}, "axis": {"values": [0, 2, 4, 6, 8, 10]}},
           "y": {"field": "m", "type": "quantitative", "title": "MAE relativo respecto al inicio", "scale": {"domain": [0.342, 2.641], "nice": false, "zero": false}, "axis": {"values": [0.5, 1, 1.5, 2, 2.5], "format": ".1f"}}
         }}
      ]
    },
    {
      "width": 1118, "height": 696,
      "title": {"text": ["forrester", "GP_RBF"]},
      "transform": [{"filter": "datum.b === 'forrester'"}],
      "layer": [
        {"mark": {"type": "area", "fillOpacity": 0.15, "strokeOpacity": 0.15, "strokeWidth": 3},
         "encoding": {
           "x": {"field": "i", "type": "quantitative", "title": "Iteración de infill", "scale": {"domain": [-0.15, 5.15], "nice": false, "zero": false}, "axis": {"values": [0, 1, 2, 3, 4, 5]}},
           "y": {"field": "lo", "type": "quantitative", "title": "MAE relativo respecto al inicio", "scale": {"domain": [-0.193, 3.064], "nice": false, "zero": false}, "axis": {"values": [0, 0.5, 1, 1.5, 2, 2.5, 3], "format": ".1f"}},
           "y2": {"field": "hi"},
           "color": {"field": "s", "type": "nominal", "title": "n_train inicial", "scale": {"domain": ["n_train=1", "n_train=8", "n_train=32", "n_train=2", "n_train=4", "n_train=6", "n_train=24"], "range": ["#1f77b4", "#9467bd", "#e377c2", "#ff7f0e", "#2ca02c", "#d62728", "#8c564b"]}},
           "stroke": {"field": "s", "type": "nominal", "scale": {"domain": ["n_train=1", "n_train=8", "n_train=32", "n_train=2", "n_train=4", "n_train=6", "n_train=24"], "range": ["#1f77b4", "#9467bd", "#e377c2", "#ff7f0e", "#2ca02c", "#d62728", "#8c564b"]}, "legend": null}
         }},
        {"mark": {"type": "rule", "color": "#000000", "strokeWidth": 4.2, "strokeDash": [15.4, 6.7]},
         "encoding": {"y": {"datum": 1, "type": "quantitative", "title": "MAE relativo respecto al inicio", "scale": {"domain": [-0.193, 3.064], "nice": false, "zero": false}, "axis": {"values": [0, 0.5, 1, 1.5, 2, 2.5, 3], "format": ".1f"}}}},
        {"mark": {"type": "line", "strokeWidth": 6},
         "encoding": {
           "x": {"field": "i", "type": "quantitative", "title": "Iteración de infill", "scale": {"domain": [-0.15, 5.15], "nice": false, "zero": false}, "axis": {"values": [0, 1, 2, 3, 4, 5]}},
           "y": {"field": "m", "type": "quantitative", "title": "MAE relativo respecto al inicio", "scale": {"domain": [-0.193, 3.064], "nice": false, "zero": false}, "axis": {"values": [0, 0.5, 1, 1.5, 2, 2.5, 3], "format": ".1f"}},
           "color": {"field": "s", "type": "nominal", "title": "n_train inicial", "scale": {"domain": ["n_train=1", "n_train=8", "n_train=32", "n_train=2", "n_train=4", "n_train=6", "n_train=24"], "range": ["#1f77b4", "#9467bd", "#e377c2", "#ff7f0e", "#2ca02c", "#d62728", "#8c564b"]}}
         }},
        {"transform": [{"filter": "datum.s === 'n_train=1'"}],
         "mark": {"type": "point", "shape": "circle", "filled": true, "size": 480, "opacity": 1, "color": "#1f77b4"},
         "encoding": {
           "x": {"field": "i", "type": "quantitative", "title": "Iteración de infill", "scale": {"domain": [-0.15, 5.15], "nice": false, "zero": false}, "axis": {"values": [0, 1, 2, 3, 4, 5]}},
           "y": {"field": "m", "type": "quantitative", "title": "MAE relativo respecto al inicio", "scale": {"domain": [-0.193, 3.064], "nice": false, "zero": false}, "axis": {"values": [0, 0.5, 1, 1.5, 2, 2.5, 3], "format": ".1f"}}
         }},
        {"transform": [{"filter": "datum.s === 'n_train=4'"}],
         "mark": {"type": "point", "shape": "triangle-up", "filled": true, "size": 560, "opacity": 1, "color": "#2ca02c"},
         "encoding": {
           "x": {"field": "i", "type": "quantitative", "title": "Iteración de infill", "scale": {"domain": [-0.15, 5.15], "nice": false, "zero": false}, "axis": {"values": [0, 1, 2, 3, 4, 5]}},
           "y": {"field": "m", "type": "quantitative", "title": "MAE relativo respecto al inicio", "scale": {"domain": [-0.193, 3.064], "nice": false, "zero": false}, "axis": {"values": [0, 0.5, 1, 1.5, 2, 2.5, 3], "format": ".1f"}}
         }}
      ]
    },
    {
      "width": 1118, "height": 696,
      "title": {"text": ["hartmann6", "GP_Linear"]},
      "transform": [{"filter": "datum.b === 'hartmann6'"}],
      "layer": [
        {"mark": {"type": "area", "fillOpacity": 0.15, "strokeOpacity": 0.15, "strokeWidth": 3},
         "encoding": {
           "x": {"field": "i", "type": "quantitative", "title": "Iteración de infill", "scale": {"domain": [-0.9, 30.9], "nice": false, "zero": false}, "axis": {"values": [0, 5, 10, 15, 20, 25, 30]}},
           "y": {"field": "lo", "type": "quantitative", "title": "MAE relativo respecto al inicio", "scale": {"domain": [-0.056, 2.004], "nice": false, "zero": false}, "axis": {"values": [0, 0.25, 0.5, 0.75, 1, 1.25, 1.5, 1.75, 2], "format": ".2f"}},
           "y2": {"field": "hi"},
           "color": {"field": "s", "type": "nominal", "title": "n_train inicial", "scale": {"domain": ["n_train=1", "n_train=8", "n_train=32", "n_train=2", "n_train=4", "n_train=6", "n_train=24"], "range": ["#1f77b4", "#9467bd", "#e377c2", "#ff7f0e", "#2ca02c", "#d62728", "#8c564b"]}},
           "stroke": {"field": "s", "type": "nominal", "scale": {"domain": ["n_train=1", "n_train=8", "n_train=32", "n_train=2", "n_train=4", "n_train=6", "n_train=24"], "range": ["#1f77b4", "#9467bd", "#e377c2", "#ff7f0e", "#2ca02c", "#d62728", "#8c564b"]}, "legend": null}
         }},
        {"mark": {"type": "rule", "color": "#000000", "strokeWidth": 4.2, "strokeDash": [15.4, 6.7]},
         "encoding": {"y": {"datum": 1, "type": "quantitative", "title": "MAE relativo respecto al inicio", "scale": {"domain": [-0.056, 2.004], "nice": false, "zero": false}, "axis": {"values": [0, 0.25, 0.5, 0.75, 1, 1.25, 1.5, 1.75, 2], "format": ".2f"}}}},
        {"mark": {"type": "line", "strokeWidth": 6},
         "encoding": {
           "x": {"field": "i", "type": "quantitative", "title": "Iteración de infill", "scale": {"domain": [-0.9, 30.9], "nice": false, "zero": false}, "axis": {"values": [0, 5, 10, 15, 20, 25, 30]}},
           "y": {"field": "m", "type": "quantitative", "title": "MAE relativo respecto al inicio", "scale": {"domain": [-0.056, 2.004], "nice": false, "zero": false}, "axis": {"values": [0, 0.25, 0.5, 0.75, 1, 1.25, 1.5, 1.75, 2], "format": ".2f"}},
           "color": {"field": "s", "type": "nominal", "title": "n_train inicial", "scale": {"domain": ["n_train=1", "n_train=8", "n_train=32", "n_train=2", "n_train=4", "n_train=6", "n_train=24"], "range": ["#1f77b4", "#9467bd", "#e377c2", "#ff7f0e", "#2ca02c", "#d62728", "#8c564b"]}}
         }},
        {"transform": [{"filter": "datum.s === 'n_train=1'"}],
         "mark": {"type": "point", "shape": "circle", "filled": true, "size": 480, "opacity": 1, "color": "#1f77b4"},
         "encoding": {
           "x": {"field": "i", "type": "quantitative", "title": "Iteración de infill", "scale": {"domain": [-0.9, 30.9], "nice": false, "zero": false}, "axis": {"values": [0, 5, 10, 15, 20, 25, 30]}},
           "y": {"field": "m", "type": "quantitative", "title": "MAE relativo respecto al inicio", "scale": {"domain": [-0.056, 2.004], "nice": false, "zero": false}, "axis": {"values": [0, 0.25, 0.5, 0.75, 1, 1.25, 1.5, 1.75, 2], "format": ".2f"}}
         }},
        {"transform": [{"filter": "datum.s === 'n_train=6'"}],
         "mark": {"type": "point", "shape": "diamond", "filled": true, "size": 800, "opacity": 1, "color": "#d62728"},
         "encoding": {
           "x": {"field": "i", "type": "quantitative", "title": "Iteración de infill", "scale": {"domain": [-0.9, 30.9], "nice": false, "zero": false}, "axis": {"values": [0, 5, 10, 15, 20, 25, 30]}},
           "y": {"field": "m", "type": "quantitative", "title": "MAE relativo respecto al inicio", "scale": {"domain": [-0.056, 2.004], "nice": false, "zero": false}, "axis": {"values": [0, 0.25, 0.5, 0.75, 1, 1.25, 1.5, 1.75, 2], "format": ".2f"}}
         }},
        {"transform": [{"filter": "datum.s === 'n_train=24'"}],
         "mark": {"type": "point", "shape": "cross", "angle": 45, "filled": true, "size": 520, "opacity": 1, "color": "#8c564b"},
         "encoding": {
           "x": {"field": "i", "type": "quantitative", "title": "Iteración de infill", "scale": {"domain": [-0.9, 30.9], "nice": false, "zero": false}, "axis": {"values": [0, 5, 10, 15, 20, 25, 30]}},
           "y": {"field": "m", "type": "quantitative", "title": "MAE relativo respecto al inicio", "scale": {"domain": [-0.056, 2.004], "nice": false, "zero": false}, "axis": {"values": [0, 0.25, 0.5, 0.75, 1, 1.25, 1.5, 1.75, 2], "format": ".2f"}}
         }},
        {"mark": {"type": "point", "filled": true},
         "encoding": {
           "x": {"field": "i", "type": "quantitative", "title": "Iteración de infill", "scale": {"domain": [-0.9, 30.9], "nice": false, "zero": false}, "axis": {"values": [0, 5, 10, 15, 20, 25, 30]}},
           "y": {"field": "m", "type": "quantitative", "title": "MAE relativo respecto al inicio", "scale": {"domain": [-0.056, 2.004], "nice": false, "zero": false}, "axis": {"values": [0, 0.25, 0.5, 0.75, 1, 1.25, 1.5, 1.75, 2], "format": ".2f"}},
           "opacity": {"value": 0},
           "color": {"field": "s", "type": "nominal", "title": "n_train inicial", "scale": {"domain": ["n_train=1", "n_train=8", "n_train=32", "n_train=2", "n_train=4", "n_train=6", "n_train=24"], "range": ["#1f77b4", "#9467bd", "#e377c2", "#ff7f0e", "#2ca02c", "#d62728", "#8c564b"]}, "legend": {"title": "n_train inicial"}},
           "shape": {"field": "s", "type": "nominal", "title": "n_train inicial", "legend": {"title": "n_train inicial"}, "scale": {"domain": ["n_train=1", "n_train=8", "n_train=32", "n_train=2", "n_train=4", "n_train=6", "n_train=24"], "range": [
             "M-1,-0.068H1V0.068H-1Z M0.25,0A0.25,0.25 0 1,1 -0.25,0A0.25,0.25 0 1,1 0.25,0Z",
             "M-1,-0.068H1V0.068H-1Z M-0.085,-0.255H0.085V-0.085H0.255V0.085H0.085V0.255H-0.085V0.085H-0.255V-0.085H-0.085Z",
             "M-1,-0.068H1V0.068H-1Z M-0.26,-0.265L0.26,-0.265L0,0.265Z",
             "M-1,-0.068H1V0.068H-1Z M-0.25,-0.25H0.25V0.25H-0.25Z",
             "M-1,-0.068H1V0.068H-1Z M0,-0.275L0.275,0.275L-0.275,0.275Z",
             "M-1,-0.068H1V0.068H-1Z M0,-0.36L0.32,0L0,0.36L-0.32,0Z",
             "M-1,-0.068H1V0.068H-1Z M-0.143,-0.27L0,-0.127L0.143,-0.27L0.27,-0.143L0.127,0L0.27,0.143L0.143,0.27L0,0.127L-0.143,0.27L-0.27,0.143L-0.127,0L-0.27,-0.143Z"
           ]}}
         }}
      ]
    }
  ],
  "config": {
    "font": "DejaVu Sans",
    "view": {"stroke": "#cccccc", "strokeWidth": 4},
    "title": {"font": "DejaVu Sans", "fontSize": 45, "fontWeight": "normal", "color": "#262626", "lineHeight": 49.5, "offset": 14},
    "axis": {
      "domain": false, "ticks": false, "tickSize": 0,
      "grid": true, "gridColor": "#cccccc", "gridWidth": 3.3, "gridOpacity": 1,
      "labelFont": "DejaVu Sans", "labelFontSize": 37, "labelColor": "#262626", "labelPadding": 34, "labelFlush": false, "labelOverlap": false,
      "titleFont": "DejaVu Sans", "titleFontSize": 46, "titleFontWeight": "normal", "titleColor": "#262626", "titleLimit": 1500
    },
    "axisX": {"titlePadding": 14},
    "axisY": {"titlePadding": 18},
    "legend": {
      "orient": "none", "legendX": 2807, "legendY": 648,
      "titleFont": "DejaVu Sans", "titleFontSize": 40, "titleFontWeight": "normal", "titleColor": "#262626", "titleAnchor": "middle", "titleLimit": 500, "titlePadding": -3,
      "labelFont": "DejaVu Sans", "labelFontSize": 37, "labelColor": "#262626", "labelLimit": 500, "labelOffset": 27,
      "symbolSize": 6561, "symbolOpacity": 1, "symbolStrokeWidth": 0, "rowPadding": -6,
      "padding": 13, "strokeColor": "#cccccc", "strokeWidth": 3.3, "fillColor": "#ffffff", "cornerRadius": 8
    }
  }
}
